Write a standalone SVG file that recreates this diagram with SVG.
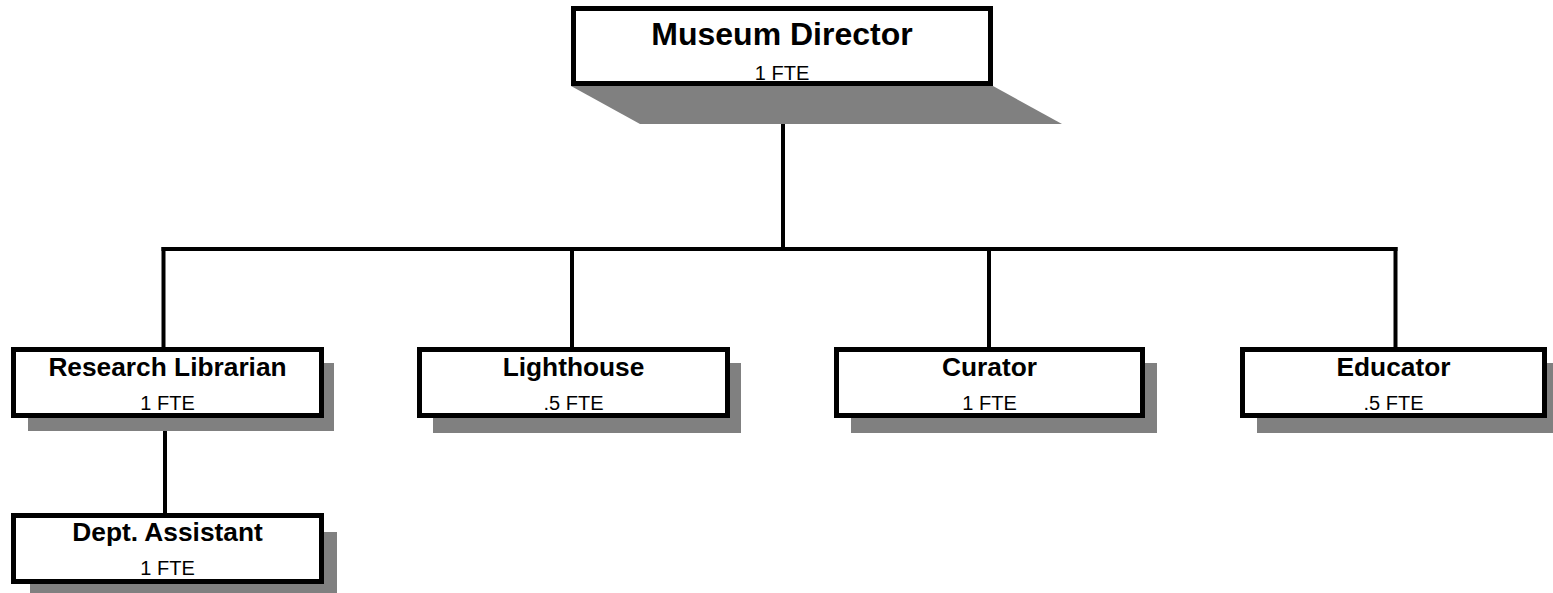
<svg xmlns="http://www.w3.org/2000/svg" width="1553" height="593" viewBox="0 0 1553 593">
<style>
.box{fill:#ffffff;stroke:#000000;stroke-width:5}
.sh{fill:#808080}
.t{font-family:"Liberation Sans",Arial,sans-serif;font-weight:bold;font-size:26.3px;text-anchor:middle;fill:#000}
.s{font-family:"Liberation Sans",Arial,sans-serif;font-size:20px;text-anchor:middle;fill:#000}
.c{stroke:#000;stroke-width:4;fill:none;stroke-linecap:square}
</style>
<rect width="1553" height="593" fill="#ffffff"/>
<g id="connectors">
<line class="c" x1="783" y1="124" x2="783" y2="249"/>
<line class="c" x1="163.5" y1="249" x2="1395.5" y2="249"/>
<line class="c" x1="163.5" y1="249" x2="163.5" y2="347"/>
<line class="c" x1="572" y1="249" x2="572" y2="347"/>
<line class="c" x1="989" y1="249" x2="989" y2="347"/>
<line class="c" x1="1395.5" y1="249" x2="1395.5" y2="347"/>
<line class="c" x1="165" y1="418" x2="165" y2="513"/>
</g>
<g id="director">
<polygon class="sh" points="571,86 993,86 1062,124 640,124"/>
<rect class="box" x="573.5" y="8.5" width="417" height="75"/>
<text class="t" x="782" y="45" style="font-size:32px">Museum Director</text>
<text class="s" x="782" y="80">1 FTE</text>
</g>
<g id="librarian">
<rect class="sh" x="28" y="363" width="306" height="68"/>
<rect class="box" x="13.5" y="349.5" width="308" height="66"/>
<text class="t" x="167.5" y="375.5">Research Librarian</text>
<text class="s" x="167.5" y="410">1 FTE</text>
</g>
<g id="lighthouse">
<rect class="sh" x="433" y="363" width="308" height="70"/>
<rect class="box" x="419.5" y="349.5" width="308" height="66"/>
<text class="t" x="573.5" y="375.5">Lighthouse</text>
<text class="s" x="573.5" y="410">.5 FTE</text>
</g>
<g id="curator">
<rect class="sh" x="851" y="363" width="306" height="70"/>
<rect class="box" x="836.5" y="349.5" width="306" height="66"/>
<text class="t" x="989.5" y="375.5">Curator</text>
<text class="s" x="989.5" y="410">1 FTE</text>
</g>
<g id="educator">
<rect class="sh" x="1257" y="363" width="300" height="70"/>
<rect class="box" x="1242.5" y="349.5" width="302" height="66"/>
<text class="t" x="1393.5" y="375.5">Educator</text>
<text class="s" x="1393.5" y="410">.5 FTE</text>
</g>
<g id="assistant">
<rect class="sh" x="30" y="532" width="307" height="65"/>
<rect class="box" x="13.5" y="515.5" width="308" height="66"/>
<text class="t" x="167.5" y="540.5">Dept. Assistant</text>
<text class="s" x="167.5" y="575">1 FTE</text>
</g>
</svg>
